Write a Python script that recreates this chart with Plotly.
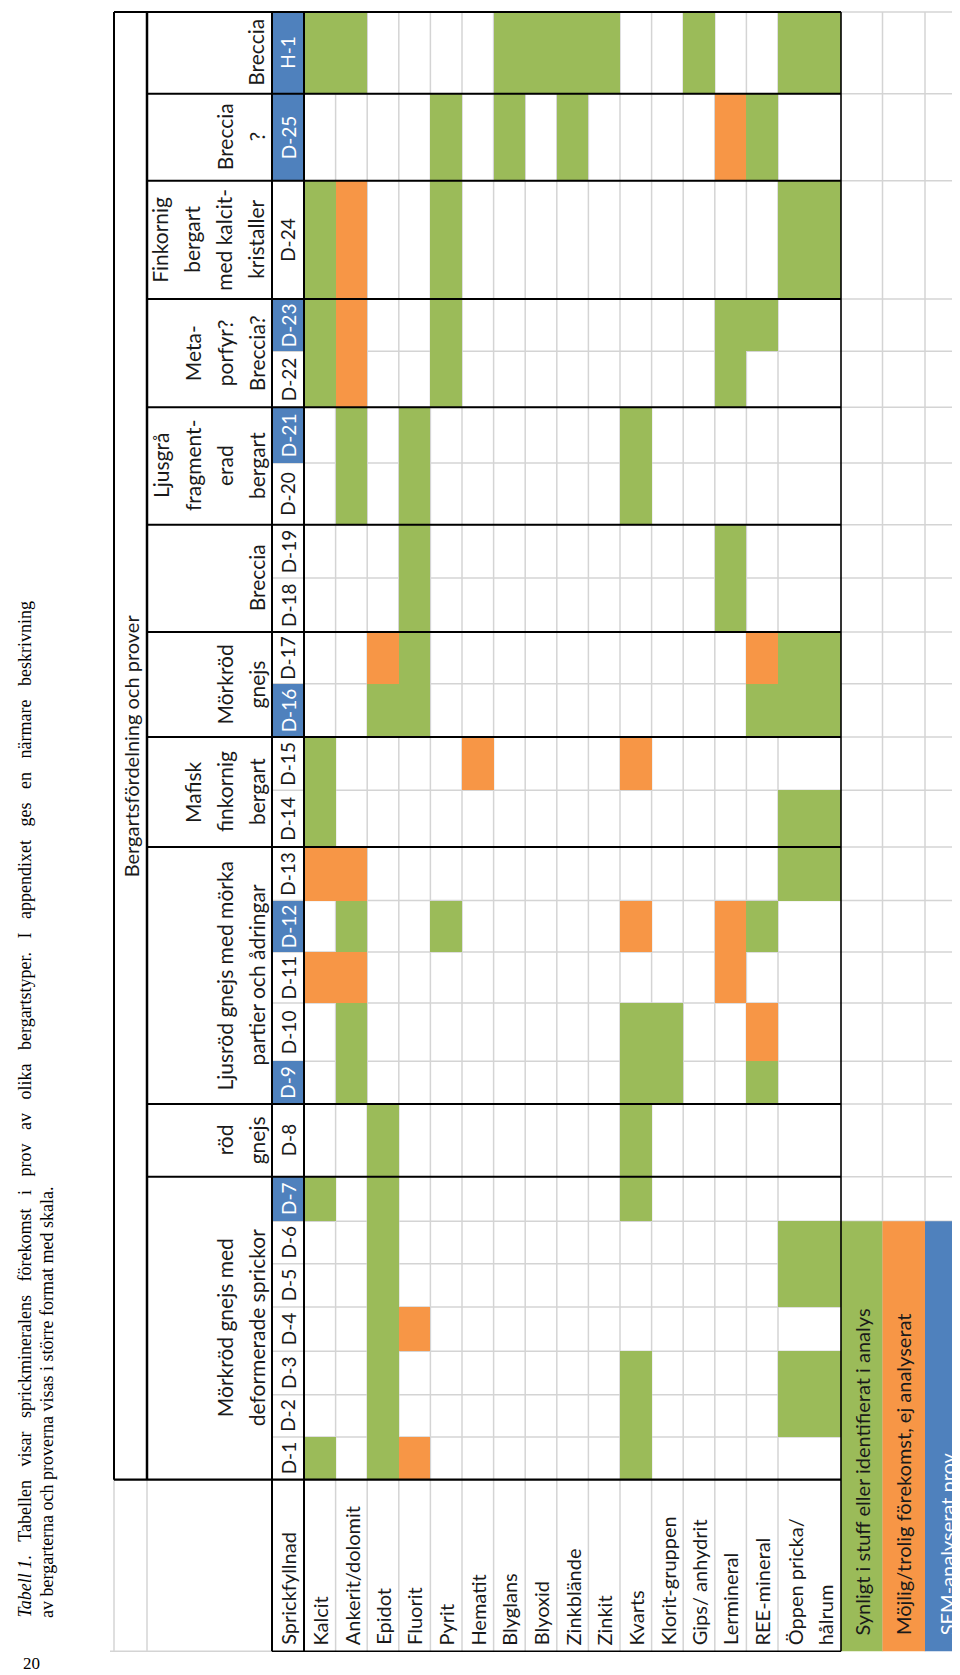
import plotly.graph_objects as go

# ------------------------------------------------------------------ data
samples = ["D-1", "D-2", "D-3", "D-4", "D-5", "D-6", "D-7", "D-8", "D-9", "D-10",
           "D-11", "D-12", "D-13", "D-14", "D-15", "D-16", "D-17", "D-18", "D-19",
           "D-20", "D-21", "D-22", "D-23", "D-24", "D-25", "H-1"]

minerals = ["Kalcit", "Ankerit/dolomit", "Epidot", "Fluorit", "Pyrit", "Hematit",
            "Blyglans", "Blyoxid", "Zinkblände", "Zinkit", "Kvarts", "Klorit-gruppen",
            "Gips/ anhydrit", "Lermineral", "REE-mineral", "Öppen pricka/<br>hålrum"]

# 0 = none, 1 = synligt/identifierat (green), 2 = möjlig/trolig (orange); order follows `samples`
kalcit     = [1,0,0,0,0,0,1,0,0,0,2,0,2,1,1,0,0,0,0,0,0,1,1,1,0,1]
ankerit    = [0,0,0,0,0,0,0,0,1,1,2,1,2,0,0,0,0,0,0,1,1,2,2,2,0,1]
epidot     = [1,1,1,1,1,1,1,1,0,0,0,0,0,0,0,1,2,0,0,0,0,0,0,0,0,0]
fluorit    = [2,0,0,2,0,0,0,0,0,0,0,0,0,0,0,1,1,1,1,1,1,0,0,0,0,0]
pyrit      = [0,0,0,0,0,0,0,0,0,0,0,1,0,0,0,0,0,0,0,0,0,1,1,1,1,0]
hematit    = [0,0,0,0,0,0,0,0,0,0,0,0,0,0,2,0,0,0,0,0,0,0,0,0,0,0]
blyglans   = [0,0,0,0,0,0,0,0,0,0,0,0,0,0,0,0,0,0,0,0,0,0,0,0,1,1]
blyoxid    = [0,0,0,0,0,0,0,0,0,0,0,0,0,0,0,0,0,0,0,0,0,0,0,0,0,1]
zinkblande = [0,0,0,0,0,0,0,0,0,0,0,0,0,0,0,0,0,0,0,0,0,0,0,0,1,1]
zinkit     = [0,0,0,0,0,0,0,0,0,0,0,0,0,0,0,0,0,0,0,0,0,0,0,0,0,1]
kvarts     = [1,1,1,0,0,0,1,1,1,1,0,2,0,0,2,0,0,0,0,1,1,0,0,0,0,0]
klorit     = [0,0,0,0,0,0,0,0,1,1,0,0,0,0,0,0,0,0,0,0,0,0,0,0,0,0]
gips       = [0,0,0,0,0,0,0,0,0,0,0,0,0,0,0,0,0,0,0,0,0,0,0,0,0,1]
lermineral = [0,0,0,0,0,0,0,0,0,0,2,2,0,0,0,0,0,1,1,0,0,1,1,0,2,0]
ree        = [0,0,0,0,0,0,0,0,1,2,0,1,0,0,0,1,2,0,0,0,0,0,1,0,1,0]
oppen      = [0,1,1,0,1,1,0,0,0,0,0,0,1,1,0,1,1,0,0,0,0,0,0,1,0,1]

sem_analysed = [0,0,0,0,0,0,1,0,1,0,0,1,0,0,0,1,0,0,0,0,1,0,1,0,1,1]

group_labels = [["Mörkröd gnejs med", "deformerade sprickor"],
                ["röd", "gnejs"],
                ["Ljusröd gnejs med mörka", "partier och ådringar"],
                ["Mafisk", "finkornig", "bergart"],
                ["Mörkröd", "gnejs"],
                ["Breccia"],
                ["Ljusgrå", "fragment-", "erad", "bergart"],
                ["Meta-", "porfyr?", "Breccia?"],
                ["Finkornig", "bergart", "med kalcit-", "kristaller"],
                ["Breccia", "?"],
                ["Breccia"]]
group_sizes = [7, 1, 5, 2, 2, 2, 2, 2, 1, 1, 1]

title_text = "Bergartsfördelning och prover"
corner_text = "Sprickfyllnad"
legend_labels = ["Synligt i stuff eller identifierat i analys",
                 "Möjlig/trolig förekomst, ej analyserat",
                 "SEM-analyserat prov"]
caption_lines = ["<i>Tabell 1</i>. Tabellen visar sprickmineralens förekomst i prov av olika "
                 "bergartstyper. I appendixet ges en närmare beskrivning",
                 "av bergarterna och proverna visas i större format med skala."]
page_number = "20"

# ------------------------------------------------------------------ layout geometry (pixels)
W, H = 960, 1675
GREEN, ORANGE, BLUE = "#9BBB59", "#F79646", "#4F81BD"
GRID = "#D4D4D4"
INK = "#1a1a1a"
FONT = "Lato"

# sample boundaries, from bottom of D-1 up to top of H-1
sample_edges = [1471.7, 1429, 1386.7, 1343.3, 1299, 1255.7, 1213.3, 1168.7, 1096,
                1053.3, 995, 944, 892.5, 839, 782.3, 729, 675.7, 624, 570, 516.7,
                455, 399.3, 343.3, 291, 172.7, 85.7, 4]
table_bottom = 1643.3
x_outer, x_group, x_id, x_min0 = 106, 139, 264, 296
mineral_widths = [31.6] * 15 + [63]
legend_widths = [41.5, 42.5, 43]

mineral_edges = [x_min0]
for w in mineral_widths:
    mineral_edges.append(mineral_edges[-1] + w)
x_table_right = mineral_edges[-1]
legend_edges = [x_table_right]
for w in legend_widths:
    legend_edges.append(legend_edges[-1] + w)

top = sample_edges[-1]
head_bottom = sample_edges[0]

# ------------------------------------------------------------------ traces
series = [kalcit, ankerit, epidot, fluorit, pyrit, hematit, blyglans, blyoxid,
          zinkblande, zinkit, kvarts, klorit, gips, lermineral, ree, oppen]
n = len(samples)
order = list(range(n - 1, -1, -1))          # top (H-1) to bottom (D-1)
y_edges_top_down = sample_edges[::-1]

z = [[(series[c][i] if series[c][i] else None) for c in range(len(minerals))] for i in order]

fig = go.Figure()
fig.add_trace(go.Heatmap(
    x=mineral_edges, y=y_edges_top_down, z=z, zmin=1, zmax=2,
    colorscale=[[0, GREEN], [0.5, GREEN], [0.5, ORANGE], [1, ORANGE]],
    showscale=False, hoverinfo="skip"))
fig.add_trace(go.Heatmap(
    x=[x_id, x_min0], y=y_edges_top_down,
    z=[[1 if sem_analysed[i] else None] for i in order], zmin=0, zmax=1,
    colorscale=[[0, BLUE], [1, BLUE]], showscale=False, hoverinfo="skip"))

shapes = []


def line(x0, y0, x1, y1, color, width, layer="above"):
    shapes.append(dict(type="line", xref="x", yref="y", x0=x0, y0=y0, x1=x1, y1=y1,
                       line=dict(color=color, width=width), layer=layer))


# light gridlines (below the coloured cells)
for xe in mineral_edges[1:-1]:
    line(xe, top, xe, table_bottom, GRID, 1.5, "below")
for xe in legend_edges[1:]:
    line(xe, top, xe, table_bottom, GRID, 1.5, "below")
for ye in sample_edges[1:-1]:
    line(x_id, ye, legend_edges[-1], ye, GRID, 1.5, "below")
line(x_table_right, top, legend_edges[-1], top, GRID, 1.5, "below")
line(x_outer - 4, table_bottom, x_id, table_bottom, GRID, 1.5, "below")
line(x_outer, head_bottom, x_outer, table_bottom, GRID, 1.5, "below")
line(x_group, head_bottom, x_group, table_bottom, GRID, 1.5, "below")

# legend boxes
legend_top = sample_edges[6]
for k, col in enumerate([GREEN, ORANGE, BLUE]):
    shapes.append(dict(type="rect", xref="x", yref="y", x0=legend_edges[k], x1=legend_edges[k + 1],
                       y0=legend_top, y1=table_bottom, fillcolor=col, line=dict(width=0),
                       layer="above"))

# black borders
line(x_outer, top, x_outer, head_bottom, "black", 2)
line(x_group, top, x_group, head_bottom, "black", 2.5)
line(x_id, top, x_id, table_bottom, "black", 2)
line(x_min0, top, x_min0, table_bottom, "black", 2)
line(x_table_right, top, x_table_right, table_bottom, "black", 1.6)
line(x_outer, top, x_table_right, top, "black", 2)
line(x_outer, head_bottom, x_table_right, head_bottom, "black", 2.2)
line(x_id, table_bottom, x_table_right, table_bottom, "black", 1.6)

group_bounds = [0]
for s in group_sizes:
    group_bounds.append(group_bounds[-1] + s)
for b in group_bounds[1:-1]:
    line(x_group, sample_edges[b], x_table_right, sample_edges[b], "black", 2)

# ------------------------------------------------------------------ text
ann = []


def text(x, y, t, size=20, color=INK, xa="center", ya="middle", angle=-90, family=FONT,
         align="center"):
    ann.append(dict(x=x, y=y, xref="x", yref="y", text=t, showarrow=False, textangle=angle,
                    xanchor=xa, yanchor=ya, align=align,
                    font=dict(family=family, size=size, color=color)))


text((x_outer + x_group) / 2, (top + head_bottom) / 2, title_text, size=20)

line_gap = 32
last_line_x = x_id - 16
for g, lines in enumerate(group_labels):
    yc = (sample_edges[group_bounds[g]] + sample_edges[group_bounds[g + 1]]) / 2
    m = len(lines)
    for k, t in enumerate(lines):
        text(last_line_x - line_gap * (m - 1 - k), yc, t, size=21)

for i, s in enumerate(samples):
    yc = (sample_edges[i] + sample_edges[i + 1]) / 2
    text((x_id + x_min0) / 2, yc, s, size=19, color="white" if sem_analysed[i] else INK)

label_base = table_bottom - 4
text((x_id + x_min0) / 2, label_base, corner_text, ya="bottom")
for c, mname in enumerate(minerals):
    xc = (mineral_edges[c] + mineral_edges[c + 1]) / 2
    if "<br>" in mname:
        parts = mname.split("<br>")
        for k, p in enumerate(parts):
            text(xc + (k - (len(parts) - 1) / 2) * 30, label_base, p, ya="bottom")
    else:
        text(xc, label_base, mname, ya="bottom")

for k, t in enumerate(legend_labels):
    xc = (legend_edges[k] + legend_edges[k + 1]) / 2
    text(xc, table_bottom - 14, t, size=20, ya="bottom",
         color="white" if k == 2 else INK)

# caption (justified first line imitated with wider word spacing)
cap1 = caption_lines[0].replace(" ", "&nbsp;&nbsp;&nbsp;")
cap1 = cap1.replace("<i>Tabell&nbsp;&nbsp;&nbsp;1</i>", "<i>Tabell 1</i>")
text(16, 1612, cap1, size=18, ya="bottom", family="Liberation Serif", color="black")
text(39, 1612, caption_lines[1], size=18, ya="bottom", family="Liberation Serif", color="black")
text(23.5, 1655, page_number, size=17, angle=0, family="Liberation Serif", color="black")

fig.update_layout(
    width=W, height=H, margin=dict(l=0, r=0, t=0, b=0),
    paper_bgcolor="white", plot_bgcolor="white",
    xaxis=dict(range=[0, W], visible=False, fixedrange=True),
    yaxis=dict(range=[H, 0], visible=False, fixedrange=True),
    shapes=shapes, annotations=ann, showlegend=False)

fig.write_html("out.html")
